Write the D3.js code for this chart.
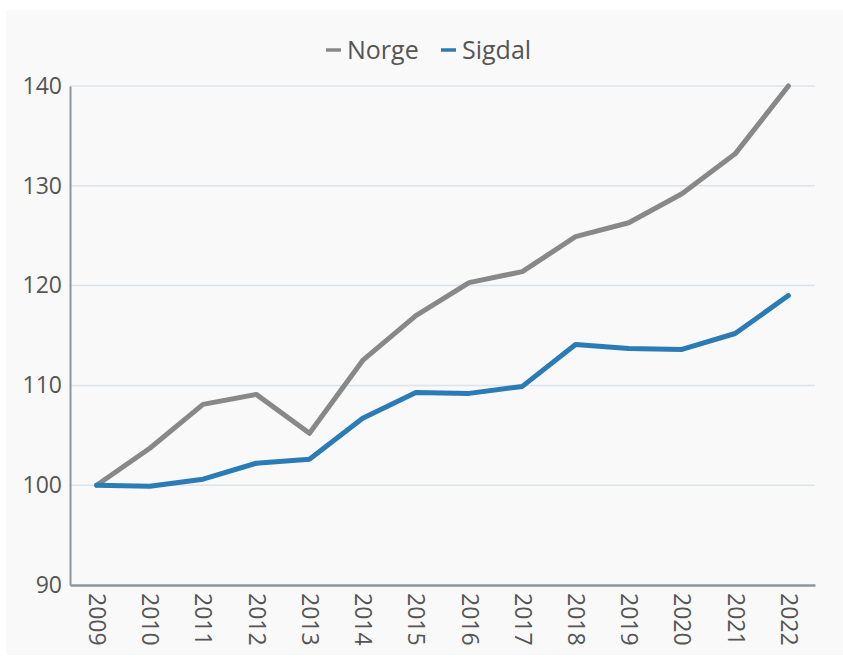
<!DOCTYPE html>
<html>
<head>
<meta charset="utf-8">
<script src="https://cdn.jsdelivr.net/npm/d3@7"></script>
<style>
  body { margin: 0; background: #fff; font-family: "Open Sans", sans-serif; }
</style>
</head>
<body>
<div id="chart"></div>
<script>
// data
const years = ["2009","2010","2011","2012","2013","2014","2015","2016","2017","2018","2019","2020","2021","2022"];
const norge = [100, 103.7, 108.1, 109.1, 105.2, 112.5, 117.0, 120.3, 121.4, 124.9, 126.3, 129.2, 133.2, 140.0];
const sigdal = [100, 99.9, 100.6, 102.2, 102.6, 106.7, 109.3, 109.2, 109.9, 114.1, 113.7, 113.6, 115.2, 119.0];
const yTicks = [90, 100, 110, 120, 130, 140];
const seriesNames = ["Norge", "Sigdal"];
const seriesColors = ["#888888", "#2a7bb6"];

const W = 843, H = 659;
const margin = {top: 86, right: 28, bottom: 74, left: 70};
const width = W - margin.left - margin.right,
      height = H - margin.top - margin.bottom;

const root = d3.select("#chart").append("svg")
  .attr("width", W)
  .attr("height", H);

// panel background
root.append("rect")
  .attr("x", 6).attr("y", 10)
  .attr("width", W - 6).attr("height", H - 14)
  .attr("fill", "#f9f9f9");

const svg = root.append("g")
  .attr("transform", `translate(${margin.left},${margin.top})`);

const x = d3.scalePoint().domain(years).range([0, width]).padding(0.5);
const y = d3.scaleLinear().domain([90, 140]).range([height, 0]);

// gridlines
svg.append("g")
  .selectAll("line")
  .data(yTicks.filter(d => d > 90))
  .join("line")
  .attr("x1", 0).attr("x2", width)
  .attr("y1", d => y(d)).attr("y2", d => y(d))
  .attr("stroke", "#dde3e8")
  .attr("stroke-width", 1.5);

// y axis
const yAxis = svg.append("g")
  .call(d3.axisLeft(y).tickValues(yTicks).tickSize(0).tickPadding(8));
yAxis.select(".domain").attr("stroke", "#8c969d").attr("stroke-width", 2);
yAxis.selectAll("text")
  .style("font-family", "Open Sans")
  .style("font-size", "23px")
  .attr("fill", "#555");

// x axis
const xAxis = svg.append("g")
  .attr("transform", `translate(0,${height})`)
  .call(d3.axisBottom(x).tickSize(0).tickPadding(0));
xAxis.select(".domain").attr("stroke", "#8c969d").attr("stroke-width", 2.5);
xAxis.selectAll("text")
  .style("font-family", "Open Sans")
  .style("font-size", "23px")
  .attr("fill", "#555")
  .attr("text-anchor", "start")
  .attr("transform", "rotate(90)")
  .attr("x", 8)
  .attr("y", 0)
  .attr("dy", "0.35em");

// lines
const line = d3.line()
  .x((d, i) => x(years[i]))
  .y(d => y(d));

[norge, sigdal].forEach((s, i) => {
  svg.append("path")
    .datum(s)
    .attr("fill", "none")
    .attr("stroke", seriesColors[i])
    .attr("stroke-width", 5)
    .attr("stroke-linejoin", "round")
    .attr("stroke-linecap", "round")
    .attr("d", line);
});

// legend
const legendX = [326, 441];
const legend = root.append("g");
seriesNames.forEach((name, i) => {
  legend.append("line")
    .attr("x1", legendX[i]).attr("x2", legendX[i] + 15)
    .attr("y1", 50).attr("y2", 50)
    .attr("stroke", seriesColors[i])
    .attr("stroke-width", 3.5);
  legend.append("text")
    .attr("x", legendX[i] + 21)
    .attr("y", 50)
    .attr("dy", "0.35em")
    .style("font-family", "Open Sans")
    .style("font-size", "25px")
    .attr("fill", "#555")
    .text(name);
});
</script>
</body>
</html>
